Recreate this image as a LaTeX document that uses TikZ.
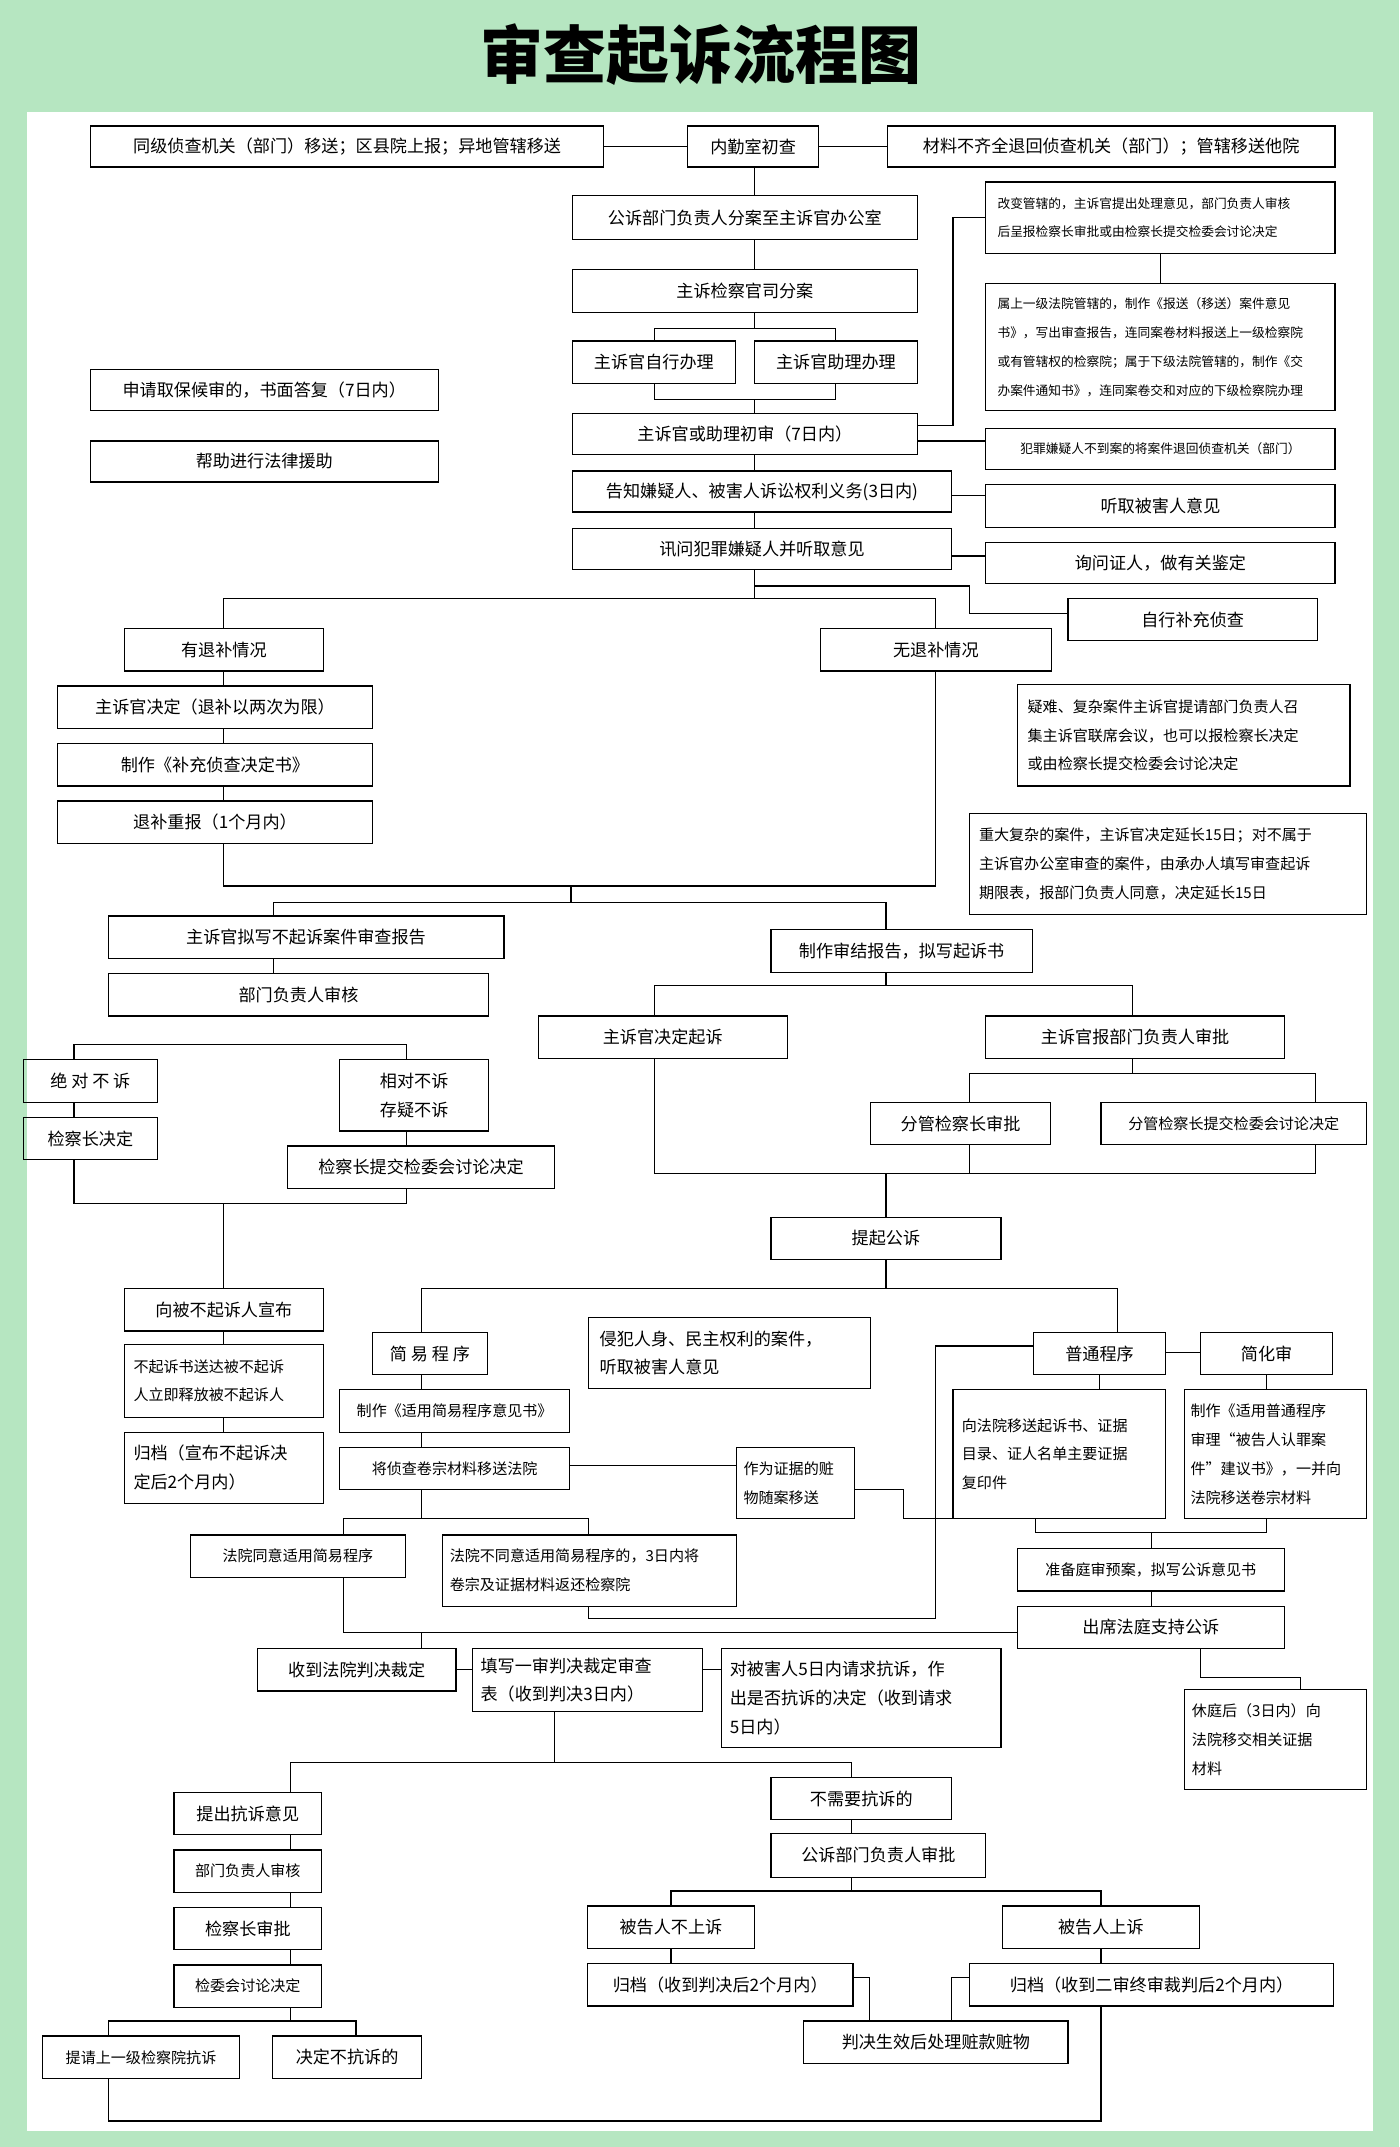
\documentclass[tikz,border=0pt]{standalone}
\usepackage{fontspec}
\setmainfont{Noto Sans CJK SC}
\definecolor{bggreen}{HTML}{B6E6C1}
\tikzset{
 box/.style={draw, line width=0.9pt, inner sep=1pt, font=\fontsize{12.5}{21}\selectfont, align=center},
 sm/.style={font=\fontsize{9.3}{21}\selectfont},
 md/.style={font=\fontsize{11}{21}\selectfont},
 lft/.style={align=left, text width=#1},
 ln/.style={line width=0.9pt}
}
\newcommand\bx[7][]{\node[box,minimum width={(#5-#3)*1pt},minimum height={(#6-#4)*1pt},#1] (#2) at ({(#3+#5)/2},{(#4+#6)/2}) {#7};}
\begin{document}
\begin{tikzpicture}[x=1pt,y=-1pt]
\fill[bggreen] (0,0) rectangle (1022,1568);
\fill[white] (20,82) rectangle (1003,1556);
\useasboundingbox (0,0) rectangle (1022,1568);
\node[font=\fontsize{46}{50}\selectfont\bfseries] (title) at (512,40) {审查起诉流程图};
% boxes
\bx{A1}{66}{92}{441}{122}{同级侦查机关（部门）移送；区县院上报；异地管辖移送}
\bx{A2}{502}{92}{598}{122}{内勤室初查}
\bx{A3}{648}{92}{975}{122}{材料不齐全退回侦查机关（部门）；管辖移送他院}
\bx{B}{418}{143}{670}{175}{公诉部门负责人分案至主诉官办公室}
\bx[sm,lft=238pt]{R1}{720}{133}{975}{185}{改变管辖的，主诉官提出处理意见，部门负责人审核\\后呈报检察长审批或由检察长提交检委会讨论决定}
\bx{C}{418}{197}{670}{228}{主诉检察官司分案}
\bx[sm,lft=238pt]{R2}{720}{207}{975}{300}{属上一级法院管辖的，制作《报送（移送）案件意见\\书》，写出审查报告，连同案卷材料报送上一级检察院\\或有管辖权的检察院；属于下级法院管辖的，制作《交\\办案件通知书》，连同案卷交和对应的下级检察院办理}
\bx{D1}{418}{249}{537}{280}{主诉官自行办理}
\bx{D2}{551}{249}{670}{280}{主诉官助理办理}
\bx{L1}{66}{270}{320}{300}{申请取保候审的，书面答复（7日内）}
\bx{L2}{66}{322}{320}{352}{帮助进行法律援助}
\bx{E}{418}{302}{670}{332}{主诉官或助理初审（7日内）}
\bx[sm]{R3}{720}{313}{975}{343}{犯罪嫌疑人不到案的将案件退回侦查机关（部门）}
\bx{F}{418}{344}{695}{374}{告知嫌疑人、被害人诉讼权利义务(3日内)}
\bx{R4}{720}{354}{975}{385}{听取被害人意见}
\bx{G}{418}{386}{695}{416}{讯问犯罪嫌疑人并听取意见}
\bx{R5}{720}{396}{975}{426}{询问证人，做有关鉴定}
\bx{H}{780}{437}{962}{468}{自行补充侦查}
\bx{I1}{91}{459}{236}{490}{有退补情况}
\bx{I2}{599}{459}{768}{490}{无退补情况}
\bx{J1}{42}{501}{272}{532}{主诉官决定（退补以两次为限）}
\bx{J2}{42}{543}{272}{574}{制作《补充侦查决定书》}
\bx{J3}{42}{585}{272}{616}{退补重报（1个月内）}
\bx[md,lft=228pt]{R6}{743}{500}{986}{574}{疑难、复杂案件主诉官提请部门负责人召\\集主诉官联席会议，也可以报检察长决定\\或由检察长提交检委会讨论决定}
\bx[md,lft=276pt]{R7}{708}{594}{998}{668}{重大复杂的案件，主诉官决定延长15日；对不属于\\主诉官办公室审查的案件，由承办人填写审查起诉\\期限表，报部门负责人同意，决定延长15日}
\bx{K1}{79}{669}{368}{700}{主诉官拟写不起诉案件审查报告}
\bx{K2}{563}{679}{754}{710}{制作审结报告，拟写起诉书}
\bx{K3}{79}{711}{357}{742}{部门负责人审核}
\bx{O1}{393}{742}{575}{773}{主诉官决定起诉}
\bx{O2}{720}{742}{938}{773}{主诉官报部门负责人审批}
\bx{M1}{17}{774}{115}{805}{绝\ 对\ 不\ 诉}
\bx{M2}{248}{774}{357}{826}{相对不诉\\存疑不诉}
\bx{M3}{17}{816}{115}{847}{检察长决定}
\bx{M4}{210}{837}{405}{868}{检察长提交检委会讨论决定}
\bx{P1}{636}{805}{767}{836}{分管检察长审批}
\bx[md]{P2}{804}{805}{998}{836}{分管检察长提交检委会讨论决定}
\bx{Q}{563}{889}{731}{920}{提起公诉}
\bx{N1}{91}{941}{236}{972}{向被不起诉人宣布}
\bx[md,lft=132pt]{N2}{91}{982}{236}{1035}{不起诉书送达被不起诉\\人立即释放被不起诉人}
\bx[lft=132pt]{N3}{91}{1046}{236}{1098}{归档（宣布不起诉决\\定后2个月内）}
\bx{S1}{272}{973}{356}{1004}{简\ 易\ 程\ 序}
\bx[lft=190pt]{S3}{430}{962}{636}{1014}{侵犯人身、民主权利的案件，\\听取被害人意见}
\bx{S2}{755}{973}{851}{1004}{普通程序}
\bx{S4}{877}{973}{973}{1004}{简化审}
\bx[md]{T1}{248}{1015}{416}{1046}{制作《适用简易程序意见书》}
\bx[md]{T2}{248}{1057}{416}{1088}{将侦查卷宗材料移送法院}
\bx[md,lft=76pt]{T3}{538}{1057}{624}{1109}{作为证据的赃\\物随案移送}
\bx[md,lft=142pt]{U1}{696}{1015}{851}{1109}{向法院移送起诉书、证据\\目录、证人名单主要证据\\复印件}
\bx[md,lft=124pt]{U2}{865}{1015}{998}{1109}{制作《适用普通程序\\审理“被告人认罪案\\件”建议书》，一并向\\法院移送卷宗材料}
\bx[md]{W1}{139}{1121}{296}{1152}{法院同意适用简易程序}
\bx[md,lft=204pt]{W2}{323}{1121}{538}{1173}{法院不同意适用简易程序的，3日内将\\卷宗及证据材料返还检察院}
\bx[md]{V1}{743}{1131}{938}{1162}{准备庭审预案，拟写公诉意见书}
\bx{V2}{743}{1173}{938}{1204}{出席法庭支持公诉}
\bx{X1}{188}{1204}{333}{1235}{收到法院判决裁定}
\bx[lft=156pt]{X2}{345}{1204}{513}{1250}{填写一审判决裁定审查\\表（收到判决3日内）}
\bx[lft=192pt]{X3}{527}{1204}{731}{1276}{对被害人5日内请求抗诉，作\\出是否抗诉的决定（收到请求\\5日内）}
\bx[md,lft=122pt]{X4}{865}{1234}{998}{1307}{休庭后（3日内）向\\法院移交相关证据\\材料}
\bx{Y1}{127}{1309}{235}{1340}{提出抗诉意见}
\bx[md]{Y2}{127}{1351}{235}{1382}{部门负责人审核}
\bx{Y3}{127}{1393}{235}{1424}{检察长审批}
\bx[md]{Y4}{127}{1435}{235}{1466}{检委会讨论决定}
\bx[md]{Z1}{31}{1487}{175}{1518}{提请上一级检察院抗诉}
\bx{Z2}{199}{1487}{308}{1518}{决定不抗诉的}
\bx{AB1}{563}{1298}{695}{1329}{不需要抗诉的}
\bx{AB2}{563}{1339}{720}{1371}{公诉部门负责人审批}
\bx{AC1}{429}{1392}{551}{1423}{被告人不上诉}
\bx{AC2}{732}{1392}{876}{1423}{被告人上诉}
\bx{AD1}{429}{1434}{623}{1465}{归档（收到判决后2个月内）}
\bx{AD2}{708}{1434}{974}{1465}{归档（收到二审终审裁判后2个月内）}
\bx{AE}{587}{1476}{780}{1507}{判决生效后处理赃款赃物}
% connectors
\begin{scope}[ln]
\draw (A1.east) -- (A2.west);
\draw (A2.east) -- (A3.west);
\draw (A2.south -| 551,0) -- (B.north -| 551,0);
\draw (B.south -| 551,0) -- (C.north -| 551,0);
\draw (C.south -| 551,0) -- (551,240);
\draw (D1.north -| 478,0) -- (478,240) -- (610,240) -- (D2.north -| 610,0);
\draw (D1.south -| 478,0) -- (478,292) -- (610,292) -- (D2.south -| 610,0);
\draw (551,292) -- (E.north -| 551,0);
\draw (E.east |- 0,311) -- (696,311) |- (R1.west);
\draw (E.east |- 0,322) -- (R3.west |- 0,322);
\draw (R1.south) -- (R2.north);
\draw (E.south -| 551,0) -- (F.north -| 551,0);
\draw (F.south -| 551,0) -- (G.north -| 551,0);
\draw (F.east |- 0,362) -- (R4.west |- 0,362);
\draw (G.east |- 0,406) -- (R5.west |- 0,406);
\draw (G.south -| 551,0) -- (551,437);
\draw (551,428) -- (708,428) -- (708,448) -- (H.west |- 0,448);
\draw (I1.north -| 163,0) -- (163,437) -- (683,437) -- (I2.north -| 683,0);
\draw (I1.south -| 163,0) -- (J1.north -| 163,0);
\draw (J1.south -| 163,0) -- (J2.north -| 163,0);
\draw (J2.south -| 163,0) -- (J3.north -| 163,0);
\draw (J3.south -| 163,0) -- (163,647) -- (683,647) -- (I2.south -| 683,0);
\draw (417,647) -- (417,659);
\draw (K1.north -| 200,0) -- (200,659) -- (647,659) -- (K2.north -| 647,0);
\draw (K1.south -| 200,0) -- (K3.north -| 200,0);
\draw (M1.north -| 54,0) -- (54,763) -- (297,763) -- (M2.north -| 297,0);
\draw (M1.south -| 54,0) -- (M3.north -| 54,0);
\draw (M2.south -| 297,0) -- (M4.north -| 297,0);
\draw (M3.south -| 54,0) -- (54,879) -- (297,879) -- (M4.south -| 297,0);
\draw (163,879) -- (N1.north -| 163,0);
\draw (N1.south -| 163,0) -- (N2.north -| 163,0);
\draw (N2.south -| 163,0) -- (N3.north -| 163,0);
\draw (K2.south -| 647,0) -- (647,720);
\draw (O1.north -| 478,0) -- (478,720) -- (827,720) -- (O2.north -| 827,0);
\draw (O2.south -| 827,0) -- (827,784);
\draw (P1.north -| 708,0) -- (708,784) -- (961,784) -- (P2.north -| 961,0);
\draw (O1.south -| 478,0) -- (478,857) -- (961,857) -- (P2.south -| 961,0);
\draw (P1.south -| 708,0) -- (708,857);
\draw (647,857) -- (Q.north -| 647,0);
\draw (Q.south -| 647,0) -- (647,941);
\draw (S1.north -| 308,0) -- (308,941) -- (816,941) -- (S2.north -| 816,0);
\draw (S2.east |- 0,988) -- (S4.west |- 0,988);
\draw (S1.south -| 308,0) -- (T1.north -| 308,0);
\draw (T1.south -| 308,0) -- (T2.north -| 308,0);
\draw (S2.south -| 803,0) -- (U1.north -| 803,0);
\draw (S4.south -| 925,0) -- (U2.north -| 925,0);
\draw (T2.east |- 0,1070) -- (T3.west |- 0,1070);
\draw (T3.east |- 0,1088) -- (660,1088) -- (660,1109) -- (756,1109);
\draw (U1.south -| 756,0) -- (756,1119) -- (925,1119) -- (U2.south -| 925,0);
\draw (841,1119) -- (V1.north -| 841,0);
\draw (V1.south -| 841,0) -- (V2.north -| 841,0);
\draw (S2.west |- 0,983) -- (683,983) -- (683,1182) -- (430,1182) -- (W2.south -| 430,0);
\draw (T2.south -| 308,0) -- (308,1109);
\draw (W1.north -| 251,0) -- (251,1109) -- (430,1109) -- (W2.north -| 430,0);
\draw (W1.south -| 251,0) -- (251,1192) -- (V2.west |- 0,1192);
\draw (308,1192) -- (X1.north -| 308,0);
\draw (X1.east |- 0,1219) -- (X2.west |- 0,1219);
\draw (X2.east |- 0,1219) -- (X3.west |- 0,1219);
\draw (V2.south -| 877,0) -- (877,1225) -- (950,1225) -- (X4.north -| 950,0);
\draw (X2.south -| 405,0) -- (405,1287);
\draw (Y1.north -| 212,0) -- (212,1287) -- (622,1287) -- (AB1.north -| 622,0);
\draw (Y1.south -| 212,0) -- (Y2.north -| 212,0);
\draw (Y2.south -| 212,0) -- (Y3.north -| 212,0);
\draw (Y3.south -| 212,0) -- (Y4.north -| 212,0);
\draw (Y4.south -| 212,0) -- (212,1476);
\draw (Z1.north -| 79,0) -- (79,1476) -- (260,1476) -- (Z2.north -| 260,0);
\draw (AB1.south -| 622,0) -- (AB2.north -| 622,0);
\draw (AB2.south -| 622,0) -- (622,1381);
\draw (AC1.north -| 490,0) -- (490,1381) -- (804,1381) -- (AC2.north -| 804,0);
\draw (AC1.south -| 490,0) -- (AD1.north -| 490,0);
\draw (AC2.south -| 804,0) -- (AD2.north -| 804,0);
\draw (AD1.east |- 0,1444) -- (635,1444) -- (AE.north -| 635,0);
\draw (AD2.west |- 0,1444) -- (695,1444) -- (AE.north -| 695,0);
\draw (Z1.south -| 79,0) -- (79,1549) -- (804,1549) -- (AD2.south -| 804,0);
\end{scope}
\end{tikzpicture}
\end{document}
